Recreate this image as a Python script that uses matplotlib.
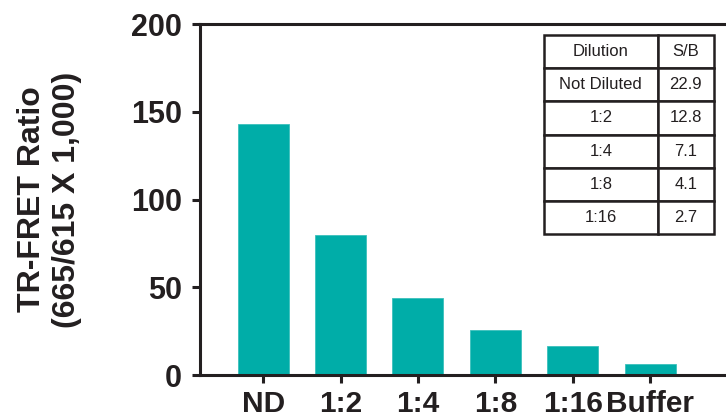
import matplotlib
matplotlib.use("Agg")
import matplotlib.pyplot as plt

categories = ["ND", "1:2", "1:4", "1:8", "1:16", "Buffer"]
values = [142.8, 79.6, 43.9, 25.6, 16.5, 6.1]
y_ticks = [0, 50, 100, 150, 200]
table_header = ["Dilution", "S/B"]
table_dilutions = ["Not Diluted", "1:2", "1:4", "1:8", "1:16"]
table_sb = ["22.9", "12.8", "7.1", "4.1", "2.7"]

plt.rcParams['font.family'] = ['Liberation Sans', 'DejaVu Sans']

fig = plt.figure(figsize=(7.26, 4.19), dpi=100)
ax = fig.add_axes([200/726, 1-375/419, 526/726, 351/419])

x = list(range(len(categories)))
ax.bar(x, values, width=0.66, color='#00ADA8', edgecolor='#3CC0BC', linewidth=0.6, zorder=2)

ax.set_ylim(0, 200)
ax.set_xlim(-0.816, 5.98)
ax.set_yticks(y_ticks)
ax.set_yticklabels([str(v) for v in y_ticks], fontsize=22, fontweight='bold', color='#231F20')
ax.set_xticks(x)
ax.set_xticklabels(categories, fontsize=21.5, fontweight='bold', color='#231F20')

for s in ['left', 'bottom', 'top']:
    ax.spines[s].set_linewidth(2.2)
    ax.spines[s].set_color('#231F20')
ax.spines['right'].set_visible(False)
ax.tick_params(axis='both', direction='out', length=6, width=2.2, color='#231F20')
ax.tick_params(axis='y', pad=7)
ax.tick_params(axis='x', pad=4.5)

ax.set_ylabel("TR-FRET Ratio\n(665/615 X 1,000)", fontsize=23, fontweight='bold',
              color='#231F20', linespacing=1.2)
ax.yaxis.set_label_coords(-0.225, 0.5)

cell_text = [table_header] + [[d, s] for d, s in zip(table_dilutions, table_sb)]
tbl = ax.table(cellText=cell_text, cellLoc='center',
               colWidths=[0.669, 0.331],
               bbox=[(544-200)/526, (375-234)/351, (714-544)/526, (234-35)/351])
tbl.auto_set_font_size(False)
tbl.set_fontsize(12)
for (r, c), cell in tbl.get_celld().items():
    cell.set_linewidth(1.8)
    cell.set_edgecolor('#231F20')
    cell.set_facecolor('white')
    cell.get_text().set_color('#231F20')
    cell.set_zorder(5)

fig.savefig("out.png", dpi=100)
